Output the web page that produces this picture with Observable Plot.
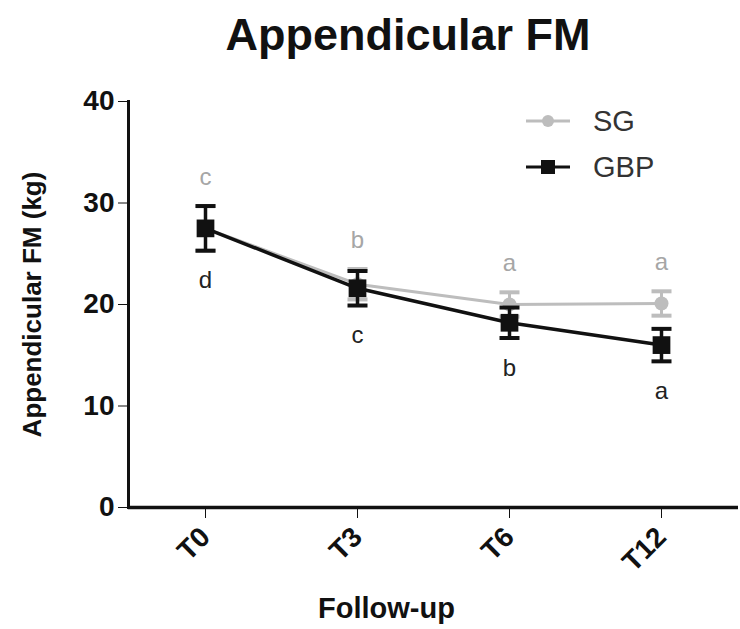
<!DOCTYPE html>
<html>
<head>
<meta charset="utf-8">
<script src="https://cdn.jsdelivr.net/npm/d3@7"></script>
<script src="https://cdn.jsdelivr.net/npm/@observablehq/plot@0.6"></script>
<style>
  html, body { margin: 0; padding: 0; background: #fff; }
  #wrap { position: relative; width: 740px; height: 629px; font-family: "Liberation Sans", Arial, sans-serif; }
  #title { height: 80px; font-size: 45px; font-weight: bold; color: #111; position: relative; }
  #title span { position: absolute; left: 408px; top: 9px; transform: translateX(-50%); white-space: nowrap; }
  #legend { position: absolute; left: 0; top: 0; pointer-events: none; }
</style>
</head>
<body>
<div id="wrap">
  <div id="title"><span>Appendicular FM</span></div>
  <div id="chart"></div>
</div>
<script>
const timepoints = ["T0", "T3", "T6", "T12"];
const sgMean = [27.5, 22.0, 20.0, 20.1];
const sgSD = [2.2, 1.5, 1.2, 1.2];
const gbpMean = [27.5, 21.6, 18.2, 16.0];
const gbpSD = [2.2, 1.7, 1.5, 1.6];
const sgLetters = ["c", "b", "a", "a"];
const gbpLetters = ["d", "c", "b", "a"];
const groups = ["SG", "GBP"];
const yTicks = [0, 10, 20, 30, 40];

const sg = timepoints.map((t, i) => ({t, m: sgMean[i], lo: sgMean[i] - sgSD[i], hi: sgMean[i] + sgSD[i], L: sgLetters[i]}));
const gbp = timepoints.map((t, i) => ({t, m: gbpMean[i], lo: gbpMean[i] - gbpSD[i], hi: gbpMean[i] + gbpSD[i], L: gbpLetters[i]}));

const SGC = "#bdbdbd";
const SGT = "#a6a6a6";
const BK = "#111";

// horizontal cap symbol for error bars
const cap = {
  draw(ctx, size) {
    const h = Math.sqrt(size / Math.PI);
    ctx.moveTo(-h, 0);
    ctx.lineTo(h, 0);
  }
};

const plot = Plot.plot({
  width: 740,
  height: 549,
  marginLeft: 128,
  marginRight: 2,
  marginTop: 21,
  marginBottom: 122,
  style: {fontFamily: "Liberation Sans, Arial, sans-serif", background: "#fff", color: BK},
  x: {type: "point", domain: timepoints, padding: 0.5},
  y: {domain: [0, 40]},
  marks: [
    Plot.axisY({ticks: yTicks, tickSize: 10, tickPadding: 4, fontSize: 28, fontWeight: "bold",
      label: null}),
    Plot.axisY({ticks: [], tickSize: 0, fontSize: 26, fontWeight: "bold",
      label: "Appendicular FM (kg)", labelAnchor: "center", labelArrow: "none", labelOffset: 106}),
    Plot.axisX({tickSize: 11, tickPadding: 14, tickRotate: -45, fontSize: 28, fontWeight: "bold", label: null}),
    Plot.ruleY([0], {stroke: BK, strokeWidth: 3.5}),
    Plot.frame({anchor: "left", stroke: BK, strokeWidth: 3}),
    // SG
    Plot.line(sg, {x: "t", y: "m", stroke: SGC, strokeWidth: 3}),
    Plot.ruleX(sg, {x: "t", y1: "lo", y2: "hi", stroke: SGC, strokeWidth: 3}),
    Plot.dot(sg, {x: "t", y: "lo", symbol: cap, r: 10, stroke: SGC, strokeWidth: 4}),
    Plot.dot(sg, {x: "t", y: "hi", symbol: cap, r: 10, stroke: SGC, strokeWidth: 4}),
    Plot.dot(sg, {x: "t", y: "m", r: 7, fill: SGC, symbol: "circle"}),
    Plot.text(sg, {x: "t", y: "hi", text: "L", dy: -29, fill: SGT, fontSize: 24, lineAnchor: "middle"}),
    // GBP
    Plot.line(gbp, {x: "t", y: "m", stroke: BK, strokeWidth: 3.5}),
    Plot.ruleX(gbp, {x: "t", y1: "lo", y2: "hi", stroke: BK, strokeWidth: 3.5}),
    Plot.dot(gbp, {x: "t", y: "lo", symbol: cap, r: 10, stroke: BK, strokeWidth: 4}),
    Plot.dot(gbp, {x: "t", y: "hi", symbol: cap, r: 10, stroke: BK, strokeWidth: 4}),
    Plot.dot(gbp, {x: "t", y: "m", r: 10, fill: BK, symbol: "square"}),
    Plot.text(gbp, {x: "t", y: "lo", text: "L", dy: 30, fill: "#222", fontSize: 24, lineAnchor: "middle"}),
    Plot.text(["Follow-up"], {frameAnchor: "bottom", dx: -47, dy: 110, fontSize: 29, fontWeight: "bold", fill: BK})
  ]
});
document.getElementById("chart").appendChild(plot);

// Legend
const ns = "http://www.w3.org/2000/svg";
const leg = document.createElementNS(ns, "svg");
leg.setAttribute("id", "legend");
leg.setAttribute("width", 740);
leg.setAttribute("height", 629);
const rows = [{name: groups[0], y: 121, color: SGC, shape: "circle"}, {name: groups[1], y: 167, color: BK, shape: "square"}];
rows.forEach(r => {
  const l = document.createElementNS(ns, "line");
  l.setAttribute("x1", 526); l.setAttribute("x2", 570);
  l.setAttribute("y1", r.y); l.setAttribute("y2", r.y);
  l.setAttribute("stroke", r.color); l.setAttribute("stroke-width", 3);
  leg.appendChild(l);
  if (r.shape === "circle") {
    const c = document.createElementNS(ns, "circle");
    c.setAttribute("cx", 548); c.setAttribute("cy", r.y); c.setAttribute("r", 6);
    c.setAttribute("fill", r.color);
    leg.appendChild(c);
  } else {
    const s = document.createElementNS(ns, "rect");
    s.setAttribute("x", 541); s.setAttribute("y", r.y - 7); s.setAttribute("width", 14); s.setAttribute("height", 14);
    s.setAttribute("fill", r.color);
    leg.appendChild(s);
  }
  const t = document.createElementNS(ns, "text");
  t.setAttribute("x", 593); t.setAttribute("y", r.y);
  t.setAttribute("dy", "0.35em");
  t.setAttribute("font-size", 29);
  t.setAttribute("font-family", "Liberation Sans, Arial, sans-serif");
  t.setAttribute("fill", "#333");
  t.textContent = r.name;
  leg.appendChild(t);
});
document.getElementById("wrap").appendChild(leg);
</script>
</body>
</html>
